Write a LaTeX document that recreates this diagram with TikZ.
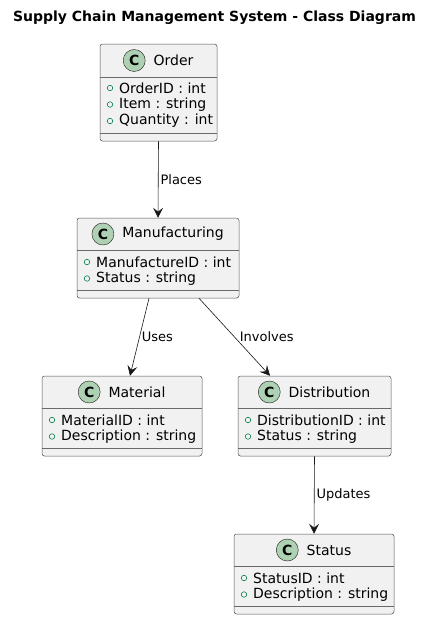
\documentclass[tikz,border=0pt]{standalone}
\usepackage{fontspec}
\setmainfont{DejaVu Sans}
\usetikzlibrary{positioning, arrows.meta}
\definecolor{umlfill}{HTML}{F1F1F1}
\definecolor{umlline}{HTML}{181818}
\definecolor{umlicon}{HTML}{ADD1B2}
\definecolor{umlpub}{HTML}{038048}
\tikzset{classbox/.style={draw=umlline!75,fill=umlfill,rounded corners=2.5pt,line width=0.5pt,inner sep=0pt},
         cicon/.style={circle,draw=umlline,fill=umlicon,minimum size=22pt,inner sep=0pt,font=\fontsize{14}{14}\selectfont\bfseries},
         cname/.style={inner sep=0pt,font=\fontsize{14}{16}\selectfont},
         attr/.style={anchor=west,inner sep=0pt,font=\fontsize{14}{16}\selectfont},
         pubdot/.style={circle,draw=umlpub,line width=0.6pt,minimum size=5.5pt,inner sep=0pt},
         sep/.style={draw=umlline!65,line width=0.5pt},
         rel/.style={draw=umlline,line width=0.6pt,-{Stealth[length=10pt,width=10pt,inset=4pt]}},
         rellabel/.style={anchor=west,font=\fontsize{13}{15}\selectfont,inner sep=2pt},
        }

\begin{document}
\begin{tikzpicture}[x=1pt,y=-1pt]
    \useasboundingbox (0,0) rectangle (429,619);
    \node[font=\fontsize{14}{16}\selectfont\bfseries](title)at(214.5,18){Supply Chain Management System - Class Diagram};
    % Order
    \node[classbox,minimum width=117,minimum height=97](order)at(158.5,92.5){};
    \node[cname](ordername)at(173.5,60.5){Order};
    \node[cicon,left=8pt of ordername](ordericon){C};
    \draw[sep](order.west |- 0,77)--(order.east |- 0,77);
    \draw[sep](order.west |- 0,133)--(order.east |- 0,133);
    \node[pubdot](od1)at(110,88){};
    \node[attr](oa1)at(119,88){OrderID : int};
    \node[pubdot](od2)at(110,104.5){};
    \node[attr](oa2)at(119,104.5){Item : string};
    \node[pubdot](od3)at(110,121){};
    \node[attr](oa3)at(119,121){Quantity : int};
    % Manufacturing
    \node[classbox,minimum width=162,minimum height=80](manu)at(158,258){};
    \node[cname](manuname)at(173,234){Manufacturing};
    \node[cicon,left=8pt of manuname](manuicon){C};
    \draw[sep](manu.west |- 0,250.5)--(manu.east |- 0,250.5);
    \draw[sep](manu.west |- 0,290)--(manu.east |- 0,290);
    \node[pubdot](md1)at(87,262){};
    \node[attr](ma1)at(96,262){ManufactureID : int};
    \node[pubdot](md2)at(87,278.5){};
    \node[attr](ma2)at(96,278.5){Status : string};
    % Material
    \node[classbox,minimum width=160,minimum height=80](mat)at(122,416){};
    \node[cname](matname)at(137,392){Material};
    \node[cicon,left=8pt of matname](maticon){C};
    \draw[sep](mat.west |- 0,408.5)--(mat.east |- 0,408.5);
    \draw[sep](mat.west |- 0,448)--(mat.east |- 0,448);
    \node[pubdot](td1)at(52,420){};
    \node[attr](ta1)at(61,420){MaterialID : int};
    \node[pubdot](td2)at(52,436.5){};
    \node[attr](ta2)at(61,436.5){Description : string};
    % Distribution
    \node[classbox,minimum width=153,minimum height=80](dist)at(314.5,416){};
    \node[cname](distname)at(329.5,392){Distribution};
    \node[cicon,left=8pt of distname](disticon){C};
    \draw[sep](dist.west |- 0,408.5)--(dist.east |- 0,408.5);
    \draw[sep](dist.west |- 0,448)--(dist.east |- 0,448);
    \node[pubdot](dd1)at(248,420){};
    \node[attr](da1)at(257,420){DistributionID : int};
    \node[pubdot](dd2)at(248,436.5){};
    \node[attr](da2)at(257,436.5){Status : string};
    % Status
    \node[classbox,minimum width=160,minimum height=80](stat)at(314,574){};
    \node[cname](statname)at(329,550){Status};
    \node[cicon,left=8pt of statname](staticon){C};
    \draw[sep](stat.west |- 0,566.5)--(stat.east |- 0,566.5);
    \draw[sep](stat.west |- 0,606)--(stat.east |- 0,606);
    \node[pubdot](sd1)at(244,578){};
    \node[attr](sa1)at(253,578){StatusID : int};
    \node[pubdot](sd2)at(244,594.5){};
    \node[attr](sa2)at(253,594.5){Description : string};
    % relations
    \draw[rel](order.south)--(manu.north)node[rellabel,midway]{Places};
    \draw[rel]([xshift=-9pt]manu.south)--([xshift=8pt]mat.north)node[rellabel,midway]{Uses};
    \draw[rel]([xshift=41pt]manu.south)--([xshift=-44.5pt]dist.north)node[rellabel,midway,xshift=3pt]{Involves};
    \draw[rel](dist.south)--(stat.north)node[rellabel,midway]{Updates};
\end{tikzpicture}
\end{document}
